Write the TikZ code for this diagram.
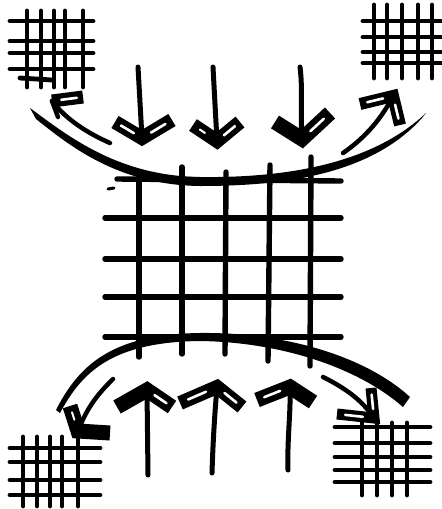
\documentclass[tikz,border=0pt]{standalone}
\usetikzlibrary{calc}
\tikzset{
  ink/.style={line width=#1, line cap=round, line join=round},
  ink/.default=5pt,
  wing/.style={line width=#1, line join=miter, miter limit=20, line cap=butt},
  wing/.default=12pt,
  slot/.style={white, line width=2.6pt, line cap=round},
  gridline/.style={line width=4.8pt, line cap=round},
  biggrid/.style={line width=5.4pt, line cap=round},
}
\newcommand\headV[4]{\draw[wing=#4] (#2) -- (#1) -- (#3);}
\newcommand\slotin[2]{\draw[slot] ($(#1)!0.3!(#2)$) -- ($(#1)!0.78!(#2)$);}
\begin{document}
\begin{tikzpicture}[x=1pt,y=-1pt]
\useasboundingbox (0,0) rectangle (442,509);
\fill[white] (0,0) rectangle (442,509);

% ---------- small corner grids ----------
% top-left
\foreach \y in {21,41,53,69} \draw[gridline] (10,\y) -- (93,\y);
\draw[gridline] (20,78) -- (52,80);
\foreach \x in {27,41,54,65,83} \draw[gridline] (\x,11) -- (\x,87);
% top-right
\foreach \y in {21,37,52,63} \draw[gridline] (363,\y) -- (442,\y);
\foreach \x in {374,387,402,418,432} \draw[gridline] (\x,5) -- (\x,78);
% bottom-left
\foreach \y in {448,462,480,495} \draw[gridline] (10,\y) -- (100,\y);
\foreach \x in {23,37,50,62,78} \draw[gridline] (\x,437) -- (\x,506);
% bottom-right
\foreach \y in {427,443,457,470,482} \draw[gridline] (335,\y) -- (430,\y);
\foreach \x in {362,377,392,407} \draw[gridline] (\x,423) -- (\x,495);

% ---------- main grid ----------
\draw[biggrid] (117,179) -- (341,181);
\foreach \y in {218,259,297,337} \draw[biggrid] (105,\y) -- (341,\y);
\draw[biggrid] (139,178) -- (139,357);
\draw[biggrid] (182,167) -- (182,354);
\draw[biggrid] (226,172) -- (225,354);
\draw[biggrid] (270,165) -- (268,361);
\draw[biggrid] (311,157) -- (310,366);
\draw[ink=3pt] (108,189) -- (114,188);

% ---------- big arcs (tapered) ----------
\fill (30,108) .. controls (68,136) and (118,176) .. (200,177)
      .. controls (280,178) and (370,166) .. (426,113)
      -- (422,118) .. controls (370,176) and (280,186) .. (200,186)
      .. controls (118,185) and (70,146) .. (36,119) -- cycle;
\fill (56,410) .. controls (78,367) and (110,334) .. (200,333)
      .. controls (282,332) and (364,355) .. (410,397)
      -- (403,407) .. controls (356,366) and (278,342) .. (200,341)
      .. controls (112,342) and (82,372) .. (60,413) -- cycle;

% ---------- top down arrows ----------
\coordinate (d1a) at (138,67);  \coordinate (d1t) at (142,138);
\coordinate (d1l) at (115,122); \coordinate (d1r) at (172,120);
\coordinate (d2a) at (213,67);  \coordinate (d2t) at (217,141);
\coordinate (d2l) at (193,125); \coordinate (d2r) at (240,122);
\coordinate (d3a) at (300,67);  \coordinate (d3t) at (302,139);
\coordinate (d3l) at (275,122); \coordinate (d3r) at (330,113);
\draw[ink] (d1a) -- (d1t);
\draw[ink] (d2a) -- (d2t);
\draw[ink] (d3a) .. controls (303,90) and (300,110) .. (d3t);
\headV{d1t}{d1l}{d1r}{14pt} \slotin{d1t}{d1l} \slotin{d1t}{d1r}
\headV{d2t}{d2l}{d2r}{14pt} \slotin{d2t}{d2r}
\draw[slot,line width=2pt] ($(d2t)!0.5!(d2l)$) -- ($(d2t)!0.72!(d2l)$);
\headV{d3t}{d3l}{d3r}{15pt} \slotin{d3t}{d3r}

% ---------- bottom up arrows ----------
\coordinate (u1a) at (148,475); \coordinate (u1t) at (147,390);
\coordinate (u1l) at (117,407); \coordinate (u1r) at (172,407);
\coordinate (u2a) at (212,473); \coordinate (u2t) at (217,387);
\coordinate (u2l) at (180,403); \coordinate (u2r) at (242,407);
\coordinate (u3a) at (288,470); \coordinate (u3t) at (290,387);
\coordinate (u3l) at (257,400); \coordinate (u3r) at (313,402);
\draw[ink] (u1a) -- (u1t);
\draw[ink] (u2a) .. controls (213,440) and (215,410) .. (u2t);
\draw[ink] (u3a) .. controls (287,440) and (291,410) .. (u3t);
\headV{u1t}{u1l}{u1r}{15pt} \slotin{u1t}{u1r}
\headV{u2t}{u2l}{u2r}{14pt} \slotin{u2t}{u2l} \slotin{u2t}{u2r}
\headV{u3t}{u3l}{u3r}{15pt} \slotin{u3t}{u3l}

% ---------- corner curved arrows ----------
% top-left
\coordinate (c1a) at (110,143); \coordinate (c1t) at (52,101);
\coordinate (c1w) at (83,97);   \coordinate (c1v) at (58,117);
\draw[ink=4.5pt] (c1a) .. controls (85,132) and (65,118) .. (c1t);
\draw[wing=13pt] (c1t) -- (c1w);
\draw[slot] ($(c1t)!0.3!(c1w)$) -- ($(c1t)!0.8!(c1w)$);
\draw[ink=4.5pt] (c1t) -- (c1v);
% top-right
\coordinate (c2a) at (343,153); \coordinate (c2t) at (393,96);
\coordinate (c2l) at (360,104); \coordinate (c2r) at (400,125);
\draw[ink=4.5pt] (c2a) .. controls (365,138) and (382,118) .. (c2t);
\headV{c2t}{c2l}{c2r}{12pt} \slotin{c2t}{c2l} \slotin{c2t}{c2r}
% bottom-left
\coordinate (c3a) at (113,379); \coordinate (c3t) at (78,431);
\coordinate (c3l) at (70,406);  \coordinate (c3r) at (110,433);
\draw[ink=4.5pt] (c3a) .. controls (100,392) and (88,405) .. (c3t);
\headV{c3t}{c3l}{c3r}{15pt}
\draw[slot,line width=2pt] ($(c3t)!0.45!(c3l)$) -- ($(c3t)!0.75!(c3l)$);
% bottom-right
\coordinate (c4a) at (323,377); \coordinate (c4t) at (374,418);
\coordinate (c4u) at (371,388); \coordinate (c4l) at (337,414);
\draw[ink=4.5pt] (c4a) .. controls (345,388) and (362,400) .. (c4t);
\headV{c4t}{c4u}{c4l}{11pt} \slotin{c4t}{c4u} \slotin{c4t}{c4l}
\end{tikzpicture}
\end{document}
